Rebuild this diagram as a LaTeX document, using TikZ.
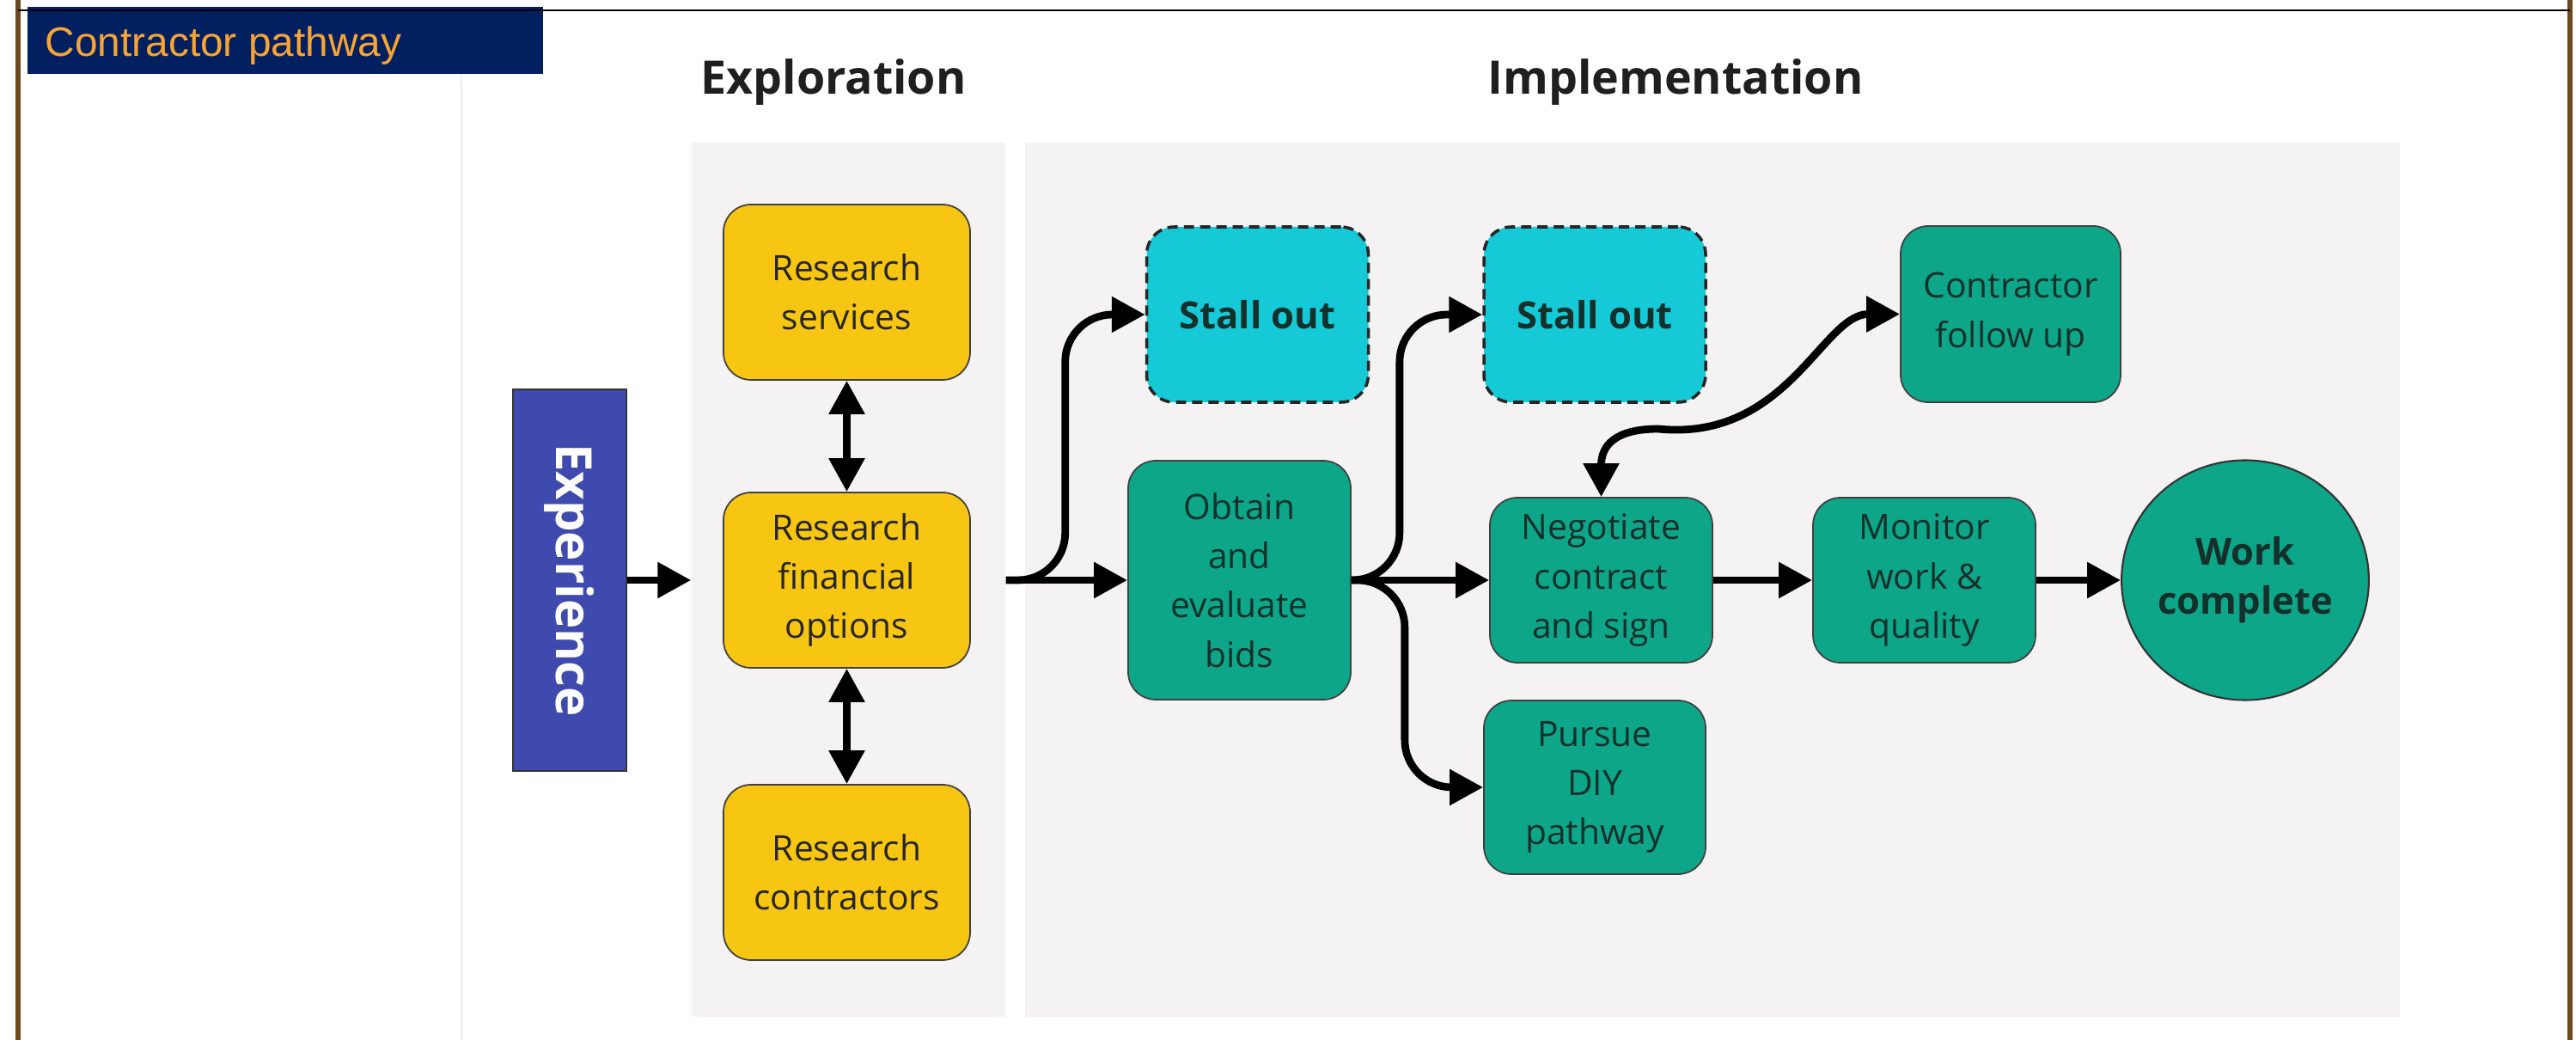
\documentclass[tikz,border=0pt]{standalone}
\usepackage{fontspec}
\setmainfont{Open Sans}
\newfontfamily\headerfont{Liberation Sans}
\usetikzlibrary{arrows.meta,shapes.geometric}
\definecolor{headerNavy}{HTML}{022060}
\definecolor{headerOrange}{HTML}{F7A434}
\definecolor{frameBrown}{HTML}{6B4A1F}
\definecolor{panelGrey}{HTML}{F4F2F3}
\definecolor{expBlue}{HTML}{3F4AAE}
\definecolor{researchYellow}{HTML}{F7C612}
\definecolor{actionGreen}{HTML}{0DA689}
\definecolor{stallCyan}{HTML}{15C9D6}
\definecolor{boxText}{HTML}{14302A}

\tikzset{
  stepbox/.style={rounded corners=0.32cm, draw=black!75, line width=0.5pt, align=center, inner sep=0pt,
    text=boxText, font=\fontsize{11.6}{16.3}\selectfont},
  research/.style={stepbox, fill=researchYellow, text=black!85, minimum width=2.87cm, minimum height=2.04cm},
  action/.style={stepbox, fill=actionGreen, minimum width=2.59cm, minimum height=1.92cm},
  stall/.style={stepbox, fill=stallCyan, draw=black!85, dashed, dash pattern=on 3.4pt off 2pt, line width=1pt,
    minimum width=2.58cm, minimum height=2.04cm, font=\fontsize{12.4}{16.3}\selectfont\bfseries},
  panel/.style={fill=panelGrey, inner sep=0pt},
  heading/.style={anchor=base, inner sep=0pt, text=black!88, font=\fontsize{15.3}{18}\selectfont\bfseries},
  arr/.style={-{Triangle[length=0.39cm,width=0.40cm]}, line width=2.5pt},
  biarr/.style={{Triangle[length=0.39cm,width=0.40cm]}-{Triangle[length=0.39cm,width=0.40cm]}, line width=2.5pt}
}

\begin{document}
\begin{tikzpicture}
    \useasboundingbox (0,0) rectangle (29.98,-12.10);
    % frame and title tab
    \fill[headerNavy] (0.32,-0.08) rectangle (6.32,-0.86);
    \node[anchor=base west, inner sep=0pt, text=headerOrange, font=\headerfont\fontsize{13.6}{16}\selectfont] (title) at (0.52,-0.66) {Contractor pathway};
    \draw[frameBrown, line width=1.5pt] (0.21,0) -- (0.21,-12.10);
    \draw[frameBrown, line width=1.5pt] (29.91,0) -- (29.91,-12.10);
    \draw[line width=0.6pt] (0.21,-0.12) -- (29.91,-0.12);
    \draw[black!7, line width=0.5pt] (5.37,-0.86) -- (5.37,-12.10);

    % phase panels
    \node[panel, minimum width=3.65cm, minimum height=10.17cm] (explore) at (9.875,-6.745) {};
    \node[panel, minimum width=16.0cm, minimum height=10.17cm] (implement) at (19.93,-6.745) {};
    \node[heading] (exploreHead) at (9.70,-1.10) {Exploration};
    \node[heading] (implementHead) at (19.50,-1.10) {Implementation};

    \node[draw=black!80, line width=0.6pt, fill=expBlue, text=white, inner sep=0pt, minimum width=1.32cm, minimum height=4.44cm,
      font=\fontsize{16.5}{18}\selectfont\bfseries] (exper) at (6.63,-6.75) {\rotatebox{-90}{Experience}};

    \node[research] (rs) at (9.855,-3.40) {Research\\services};
    \node[research] (fin) at (9.855,-6.75) {Research\\financial\\options};
    \node[research] (rc) at (9.855,-10.15) {Research\\contractors};

    \node[stall] (stallA) at (14.635,-3.66) {Stall out};
    \node[action, minimum height=2.78cm] (obtain) at (14.425,-6.75) {Obtain\\and\\evaluate\\bids};
    \node[stall] (stallB) at (18.56,-3.66) {Stall out};
    \node[action] (negot) at (18.635,-6.75) {Negotiate\\contract\\and sign};
    \node[action, minimum width=2.58cm, minimum height=2.02cm] (diy) at (18.56,-9.16) {Pursue\\DIY\\pathway};
    \node[action, minimum width=2.56cm, minimum height=2.05cm] (follow) at (23.40,-3.655) {Contractor\\follow up};
    \node[action] (monitor) at (22.395,-6.75) {Monitor\\work \&\\quality};
    \node[ellipse, draw=black!80, line width=0.6pt, fill=actionGreen, text=boxText, inner sep=0pt, align=center,
      minimum width=2.85cm, minimum height=2.79cm, font=\fontsize{12.4}{16.3}\selectfont\bfseries] (work) at (26.13,-6.75) {Work\\complete};

    % connectors
    \draw[arr] (exper.east) -- (explore.west |- exper.east);
    \draw[biarr] (rs.south) -- (fin.north);
    \draw[biarr] (fin.south) -- (rc.north);
    \coordinate (fanA) at (explore.east |- fin.east);
    \draw[arr] (fanA) -- (obtain.west);
    \draw[arr, rounded corners=0.55cm] (fanA) -- ++(0.69,0) |- (stallA.west);
    \draw[arr] (obtain.east) -- (negot.west);
    \draw[arr, rounded corners=0.55cm] (obtain.east) -- ++(0.56,0) |- (stallB.west);
    \draw[arr, rounded corners=0.55cm] (obtain.east) -- ++(0.62,0) |- (diy.west);
    \draw[arr] (negot.east) -- (monitor.west);
    \draw[arr] (monitor.east) -- (work.west);
    \coordinate (dip) at (19.3,-4.99);
    \draw[biarr] (negot.north) .. controls +(0,0.6) and +(-0.5,0) .. (dip) .. controls +(1.5,-0.15) and +(-0.9,0) .. (follow.west);
\end{tikzpicture}
\end{document}
